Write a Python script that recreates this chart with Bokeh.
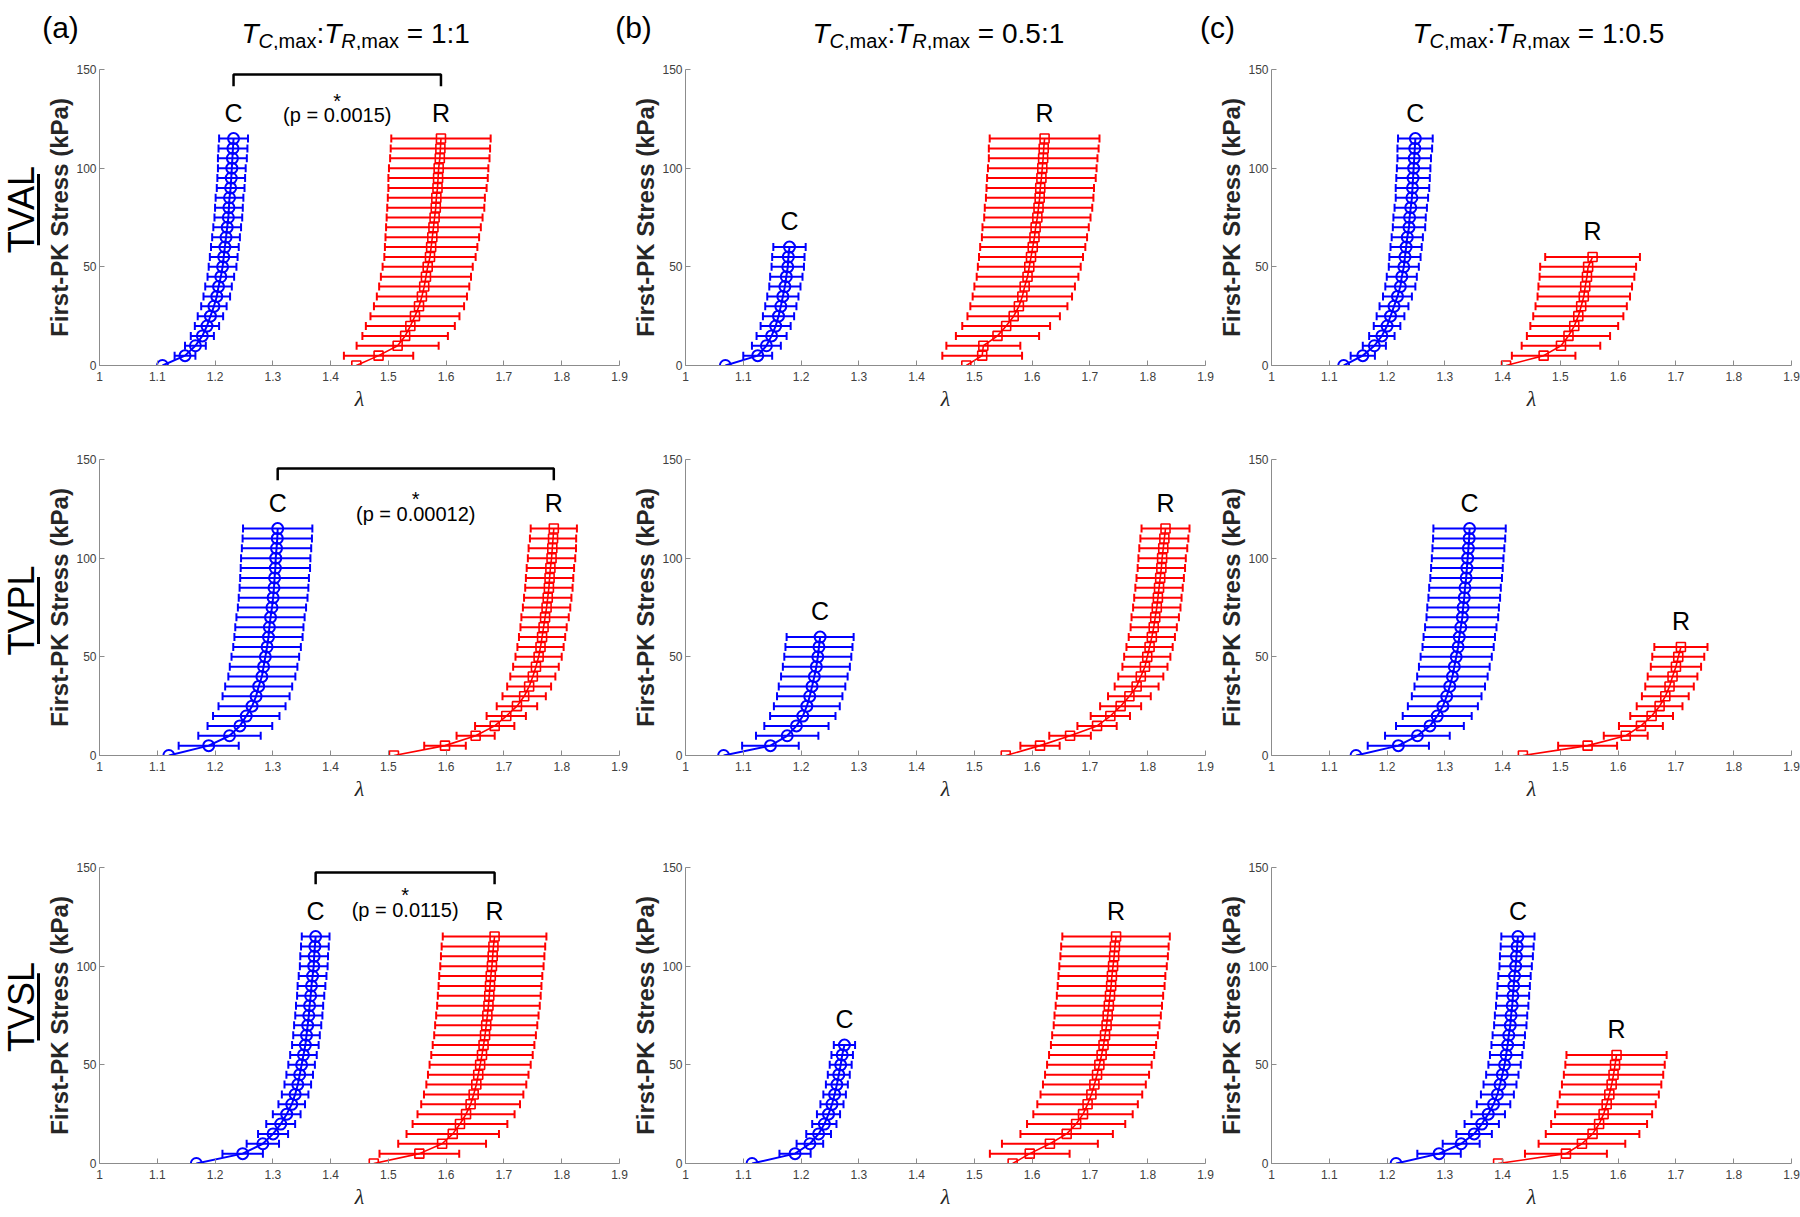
import math
from bokeh.plotting import figure
from bokeh.models import (Range1d, FixedTicker, CustomJSTickFormatter, Whisker, TeeHead,
                          ColumnDataSource, Label)
from bokeh.layouts import gridplot, column
from bokeh.embed import file_html
from bokeh.resources import INLINE

# ---------------------------------------------------------------- data
LEAFLETS = ["TVAL", "TVPL", "TVSL"]
PANEL_TAGS = ["(a)", "(b)", "(c)"]
RATIOS = ["1:1", "0.5:1", "1:0.5"]
X_TICKS = [1.0, 1.1, 1.2, 1.3, 1.4, 1.5, 1.6, 1.7, 1.8, 1.9]
Y_TICKS = [0, 50, 100, 150]
P_TEXTS = ["(p = 0.0015)", "(p = 0.00012)", "(p = 0.0115)"]

STRESS_TO_115 = [0, 5, 10, 15, 20, 25, 30, 35, 40, 45, 50, 55, 60, 65, 70, 75, 80, 85, 90, 95, 100, 105, 110, 115]
STRESS_TO_60 = [0, 5, 10, 15, 20, 25, 30, 35, 40, 45, 50, 55, 60]
STRESS_TO_55 = [0, 5, 10, 15, 20, 25, 30, 35, 40, 45, 50, 55]

# TVAL, 1:1
A1_C_LAM = [1.109, 1.148, 1.166, 1.178, 1.186, 1.192, 1.198, 1.203, 1.206, 1.210, 1.213, 1.215,
            1.217, 1.219, 1.221, 1.223, 1.224, 1.225, 1.227, 1.228, 1.229, 1.230, 1.231, 1.232]
A1_C_SD = [0, 0.018, 0.018, 0.020, 0.021, 0.022, 0.022, 0.023, 0.023, 0.023, 0.024, 0.024,
           0.024, 0.024, 0.024, 0.024, 0.024, 0.024, 0.024, 0.024, 0.024, 0.025, 0.025, 0.025]
A1_R_LAM = [1.4445, 1.483, 1.516, 1.529, 1.538, 1.546, 1.553, 1.558, 1.562, 1.565, 1.568, 1.572,
            1.574, 1.576, 1.578, 1.580, 1.582, 1.583, 1.585, 1.586, 1.587, 1.589, 1.590, 1.591]
A1_R_SD = [0, 0.060, 0.071, 0.074, 0.077, 0.077, 0.078, 0.078, 0.078, 0.078, 0.078, 0.079,
           0.080, 0.081, 0.082, 0.083, 0.084, 0.084, 0.085, 0.086, 0.086, 0.086, 0.086, 0.086]
# TVAL, 0.5:1
B1_C_LAM = [1.069, 1.125, 1.140, 1.149, 1.156, 1.161, 1.165, 1.1685, 1.172, 1.1745, 1.177, 1.178, 1.180]
B1_C_SD = [0, 0.025, 0.025, 0.026, 0.026, 0.027, 0.027, 0.027, 0.027, 0.028, 0.028, 0.028, 0.028]
B1_R_LAM = [1.486, 1.5135, 1.5155, 1.540, 1.555, 1.568, 1.577, 1.583, 1.587, 1.592, 1.595, 1.598,
            1.601, 1.604, 1.606, 1.609, 1.611, 1.613, 1.614, 1.616, 1.6175, 1.619, 1.620, 1.6215]
B1_R_SD = [0, 0.069, 0.064, 0.072, 0.076, 0.080, 0.084, 0.086, 0.087, 0.088, 0.089, 0.090,
           0.091, 0.091, 0.092, 0.092, 0.093, 0.093, 0.093, 0.094, 0.094, 0.094, 0.095, 0.095]
# TVAL, 1:0.5
C1_C_LAM = [1.125, 1.158, 1.178, 1.191, 1.200, 1.206, 1.212, 1.218, 1.223, 1.2255, 1.229, 1.231,
            1.233, 1.235, 1.238, 1.239, 1.241, 1.243, 1.244, 1.245, 1.246, 1.247, 1.248, 1.249]
C1_C_SD = [0, 0.021, 0.020, 0.022, 0.023, 0.024, 0.025, 0.025, 0.026, 0.026, 0.026, 0.027,
           0.027, 0.027, 0.028, 0.028, 0.028, 0.028, 0.029, 0.029, 0.029, 0.029, 0.030, 0.030]
C1_R_LAM = [1.406, 1.471, 1.501, 1.514, 1.524, 1.531, 1.536, 1.5405, 1.543, 1.546, 1.548, 1.5557]
C1_R_SD = [0, 0.055, 0.068, 0.072, 0.076, 0.078, 0.079, 0.080, 0.081, 0.082, 0.083, 0.082]

# TVPL, 1:1
A2_C_LAM = [1.120, 1.189, 1.225, 1.243, 1.254, 1.264, 1.271, 1.2755, 1.281, 1.284, 1.287, 1.290,
            1.2925, 1.294, 1.296, 1.2985, 1.3005, 1.302, 1.303, 1.3044, 1.305, 1.3064, 1.3077, 1.3084]
A2_C_SD = [0, 0.052, 0.054, 0.056, 0.0575, 0.058, 0.058, 0.058, 0.058, 0.0585, 0.0585, 0.0585,
           0.059, 0.059, 0.059, 0.059, 0.0595, 0.0595, 0.0595, 0.060, 0.060, 0.060, 0.060, 0.060]
A2_R_LAM = [1.5096, 1.598, 1.651, 1.684, 1.704, 1.7225, 1.735, 1.7436, 1.750, 1.7554, 1.760, 1.7633,
            1.766, 1.7686, 1.7712, 1.7738, 1.7758, 1.7778, 1.779, 1.7804, 1.7824, 1.7837, 1.785, 1.7863]
A2_R_SD = [0, 0.036, 0.033, 0.034, 0.034, 0.035, 0.0375, 0.038, 0.039, 0.0395, 0.040, 0.040,
           0.040, 0.040, 0.041, 0.041, 0.041, 0.041, 0.041, 0.041, 0.041, 0.041, 0.040, 0.040]
# TVPL, 0.5:1
B2_C_LAM = [1.066, 1.147, 1.176, 1.192, 1.203, 1.210, 1.215, 1.219, 1.223, 1.2265, 1.229, 1.231, 1.233]
B2_C_SD = [0, 0.049, 0.054, 0.0556, 0.0566, 0.057, 0.0566, 0.0576, 0.0576, 0.058, 0.058, 0.058, 0.058]
B2_R_LAM = [1.5543, 1.6136, 1.6656, 1.7123, 1.7353, 1.7531, 1.7683, 1.7808, 1.788, 1.7952, 1.7992, 1.8032,
            1.8071, 1.8104, 1.813, 1.8157, 1.8176, 1.8196, 1.8216, 1.8236, 1.8249, 1.8269, 1.8288, 1.8308]
B2_R_SD = [0, 0.034, 0.036, 0.034, 0.034, 0.0355, 0.037, 0.038, 0.039, 0.039, 0.040, 0.040,
           0.040, 0.040, 0.041, 0.041, 0.041, 0.041, 0.041, 0.041, 0.041, 0.0415, 0.0415, 0.0415]
# TVPL, 1:0.5
C2_C_LAM = [1.1463, 1.2195, 1.2525, 1.2742, 1.2868, 1.2966, 1.3032, 1.3085, 1.3131, 1.3164, 1.3197, 1.323,
            1.325, 1.3276, 1.3303, 1.3316, 1.3336, 1.3349, 1.3369, 1.3382, 1.3395, 1.3408, 1.3421, 1.3428]
C2_C_SD = [0, 0.053, 0.056, 0.0587, 0.0597, 0.0606, 0.0603, 0.061, 0.061, 0.0612, 0.0616, 0.0616,
           0.0618, 0.0618, 0.062, 0.062, 0.062, 0.062, 0.062, 0.062, 0.062, 0.0622, 0.0624, 0.0626]
C2_R_LAM = [1.4351, 1.5471, 1.6131, 1.6394, 1.6579, 1.6717, 1.6816, 1.6889, 1.6941, 1.700, 1.704, 1.7086]
C2_R_SD = [0, 0.051, 0.038, 0.038, 0.037, 0.0396, 0.0405, 0.042, 0.043, 0.0435, 0.045, 0.046]

# TVSL, 1:1
A3_C_LAM = [1.1676, 1.2478, 1.2827, 1.3004, 1.3136, 1.324, 1.3327, 1.3386, 1.3432, 1.3465, 1.3498, 1.353,
            1.3563, 1.3583, 1.3603, 1.3623, 1.3636, 1.3655, 1.3669, 1.3688, 1.3708, 1.3715, 1.3728, 1.3741]
A3_C_SD = [0, 0.035, 0.028, 0.026, 0.025, 0.024, 0.023, 0.023, 0.023, 0.023, 0.023, 0.023,
           0.023, 0.023, 0.0235, 0.0235, 0.0235, 0.0235, 0.024, 0.024, 0.024, 0.024, 0.024, 0.024]
A3_R_LAM = [1.4747, 1.5536, 1.593, 1.6114, 1.6239, 1.6344, 1.6423, 1.6476, 1.6522, 1.6555, 1.6588, 1.662,
            1.6647, 1.6673, 1.6693, 1.6713, 1.6732, 1.6746, 1.6759, 1.6772, 1.6792, 1.6805, 1.6818, 1.6838]
A3_R_SD = [0, 0.069, 0.076, 0.080, 0.082, 0.084, 0.0855, 0.086, 0.0865, 0.087, 0.0875, 0.0878,
           0.088, 0.088, 0.0884, 0.0886, 0.0888, 0.089, 0.089, 0.0892, 0.0894, 0.0895, 0.0896, 0.0897]
# TVSL, 0.5:1
B3_C_LAM = [1.1152, 1.1896, 1.2153, 1.2304, 1.2403, 1.2475, 1.2535, 1.2581, 1.262, 1.2653, 1.2686, 1.2712, 1.2751]
B3_C_SD = [0, 0.027, 0.023, 0.0214, 0.021, 0.020, 0.020, 0.0195, 0.019, 0.019, 0.019, 0.0186, 0.0184]
B3_R_LAM = [1.5662, 1.5958, 1.6307, 1.6597, 1.6761, 1.688, 1.6959, 1.7025, 1.7077, 1.7123, 1.7163, 1.7202,
            1.7235, 1.7261, 1.7288, 1.7307, 1.7327, 1.7347, 1.7367, 1.738, 1.74, 1.7419, 1.7432, 1.7452]
B3_R_SD = [0, 0.069, 0.083, 0.080, 0.085, 0.086, 0.087, 0.088, 0.089, 0.090, 0.0905, 0.091,
           0.091, 0.0915, 0.0915, 0.092, 0.092, 0.092, 0.0925, 0.0925, 0.093, 0.093, 0.093, 0.093]
# TVSL, 1:0.5
C3_C_LAM = [1.2156, 1.290, 1.3283, 1.3507, 1.3639, 1.3751, 1.3843, 1.391, 1.3955, 1.3995, 1.4034, 1.4061,
            1.4087, 1.4107, 1.4133, 1.4146, 1.4166, 1.4179, 1.4192, 1.4206, 1.4226, 1.4239, 1.4252, 1.4265]
C3_C_SD = [0, 0.0376, 0.032, 0.0307, 0.0297, 0.029, 0.029, 0.0285, 0.0285, 0.028, 0.028, 0.028,
           0.028, 0.028, 0.028, 0.028, 0.028, 0.028, 0.028, 0.028, 0.028, 0.0285, 0.0285, 0.0287]
C3_R_LAM = [1.3922, 1.5096, 1.5373, 1.5557, 1.567, 1.5748, 1.5801, 1.5847, 1.5887, 1.592, 1.5946, 1.5972]
C3_R_SD = [0, 0.0709, 0.075, 0.081, 0.083, 0.084, 0.085, 0.0857, 0.086, 0.086, 0.086, 0.0867]

# significance brackets (column (a) only): bracket height, star centre, p-text centre (kPa)
BRACKET_TOP = [147.5, 145.5, 147.5]
BRACKET_DROP = [6.0, 6.0, 6.0]
STAR_Y = [140.0, 136.0, 142.0]
PTEXT_Y = [127.0, 122.6, 128.4]

SERIES = {
    (0, 0): ((STRESS_TO_115, A1_C_LAM, A1_C_SD), (STRESS_TO_115, A1_R_LAM, A1_R_SD)),
    (0, 1): ((STRESS_TO_60, B1_C_LAM, B1_C_SD), (STRESS_TO_115, B1_R_LAM, B1_R_SD)),
    (0, 2): ((STRESS_TO_115, C1_C_LAM, C1_C_SD), (STRESS_TO_55, C1_R_LAM, C1_R_SD)),
    (1, 0): ((STRESS_TO_115, A2_C_LAM, A2_C_SD), (STRESS_TO_115, A2_R_LAM, A2_R_SD)),
    (1, 1): ((STRESS_TO_60, B2_C_LAM, B2_C_SD), (STRESS_TO_115, B2_R_LAM, B2_R_SD)),
    (1, 2): ((STRESS_TO_115, C2_C_LAM, C2_C_SD), (STRESS_TO_55, C2_R_LAM, C2_R_SD)),
    (2, 0): ((STRESS_TO_115, A3_C_LAM, A3_C_SD), (STRESS_TO_115, A3_R_LAM, A3_R_SD)),
    (2, 1): ((STRESS_TO_60, B3_C_LAM, B3_C_SD), (STRESS_TO_115, B3_R_LAM, B3_R_SD)),
    (2, 2): ((STRESS_TO_115, C3_C_LAM, C3_C_SD), (STRESS_TO_55, C3_R_LAM, C3_R_SD)),
}

# ---------------------------------------------------------------- layout / style
FONT = "Liberation Sans"
BLUE = "#0000ff"
RED = "#ff0000"
AXIS_GRAY = "#8c8c8c"
TICK_TEXT = "#404040"
LABEL_DARK = "#262626"

PAGE_W, PAGE_H = 1800, 1217
HEADER_H = 50
ROWLAB_W = 42
COL_FIG = [(42, 628), (628, 1214), (1214, 1800)]      # page x of each panel canvas
FRAME_X = [(99, 619), (685, 1205), (1271, 1791)]      # page x of lambda = 1 .. 1.9
ROW_FIG = [(50, 424), (424, 822), (822, 1217)]        # page y of each panel canvas
AXIS_Y = [(69, 365), (459, 755), (867, 1163)]         # page y of stress 150 .. 0

X_MIN, X_MAX = X_TICKS[0], X_TICKS[-1]
Y_MIN, Y_MAX = Y_TICKS[0], Y_TICKS[-1]

ADV = {"T": 0.611, "V": 0.667, "A": 0.667, "L": 0.556, "P": 0.667, "S": 0.667,
       "C": 0.722, "R": 0.722, ",": 0.278, "m": 0.833, "a": 0.556, "x": 0.5,
       ":": 0.278, " ": 0.278, "=": 0.584, "1": 0.556, "0": 0.556, "5": 0.556, ".": 0.278}


def text_width(s, size):
    return sum(ADV.get(ch, 0.556) for ch in s) * size


def canvas_fig(w, h):
    p = figure(width=w, height=h, x_range=Range1d(0, w), y_range=Range1d(0, h),
               x_axis_location=None, y_axis_location=None, output_backend="svg",
               toolbar_location=None, min_border=0)
    p.outline_line_color = None
    for g in p.grid:
        g.visible = False
    return p


def canvas_text(p, ox, oy, h, px, py, text, size, style="normal", color="black",
                font=FONT, align="left", baseline="alphabetic", angle=0.0):
    p.add_layout(Label(x=px - ox, y=oy + h - py, text=text, text_font=font,
                       text_font_size=f"{size}px", text_font_style=style, text_color=color,
                       text_align=align, text_baseline=baseline, angle=angle))


def make_panel(r, c):
    fx0, fx1 = COL_FIG[c]
    fy0, fy1 = ROW_FIG[r]
    top_px, zero_px = AXIS_Y[r]
    p = figure(width=fx1 - fx0, height=fy1 - fy0,
               x_range=Range1d(X_MIN, X_MAX), y_range=Range1d(Y_MIN, Y_MAX),
               output_backend="svg", toolbar_location=None,
               min_border_left=FRAME_X[c][0] - fx0, min_border_right=fx1 - FRAME_X[c][1],
               min_border_top=top_px - fy0, min_border_bottom=fy1 - zero_px)
    p.outline_line_color = None
    p.xgrid.visible = False
    p.ygrid.visible = False
    p.xaxis.ticker = FixedTicker(ticks=X_TICKS)
    p.xaxis.formatter = CustomJSTickFormatter(code="return String(Math.round(tick*10)/10);")
    p.yaxis.ticker = FixedTicker(ticks=Y_TICKS)
    for ax in (p.xaxis[0], p.yaxis[0]):
        ax.axis_line_color = AXIS_GRAY
        ax.axis_line_width = 1
        ax.major_tick_line_color = AXIS_GRAY
        ax.major_tick_in = 5
        ax.major_tick_out = 0
        ax.minor_tick_line_color = None
        ax.major_label_text_font = FONT
        ax.major_label_text_font_size = "12px"
        ax.major_label_text_color = TICK_TEXT
    p.xaxis.major_label_standoff = 6
    p.yaxis.major_label_standoff = 3
    p.yaxis.axis_label = "First-PK Stress (kPa)"
    p.yaxis.axis_label_text_font = FONT
    p.yaxis.axis_label_text_font_size = "24px"
    p.yaxis.axis_label_text_font_style = "bold"
    p.yaxis.axis_label_text_color = LABEL_DARK
    p.yaxis.axis_label_standoff = 0
    p.xaxis.axis_label = "λ"
    p.xaxis.axis_label_text_font = "Liberation Serif"
    p.xaxis.axis_label_text_font_size = "22px"
    p.xaxis.axis_label_text_font_style = "italic"
    p.xaxis.axis_label_text_color = LABEL_DARK
    p.xaxis.axis_label_standoff = 2

    (cy, cl, cs), (ry, rl, rs) = SERIES[(r, c)]
    for ys, lam, sd, color, marker, msize, lw in ((cy, cl, cs, BLUE, "circle", 11, 2),
                                                   (ry, rl, rs, RED, "square", 9, 1.6)):
        wy = [y for y, s in zip(ys, sd) if s > 0]
        wlo = [m - s for m, s in zip(lam, sd) if s > 0]
        whi = [m + s for m, s in zip(lam, sd) if s > 0]
        wsrc = ColumnDataSource(dict(y=wy, lo=wlo, hi=whi))
        p.add_layout(Whisker(source=wsrc, base="y", lower="lo", upper="hi", dimension="width",
                             line_color=color, line_width=2, level="glyph",
                             upper_head=TeeHead(size=8, line_color=color, line_width=2),
                             lower_head=TeeHead(size=8, line_color=color, line_width=2)))
        src = ColumnDataSource(dict(x=lam, y=ys))
        p.line("x", "y", source=src, line_color=color, line_width=lw)
        p.scatter("x", "y", source=src, marker=marker, size=msize, fill_color=None,
                  line_color=color, line_width=lw)
    # C / R tags above the top of each curve
    for tag, ys, lam in (("C", cy, cl), ("R", ry, rl)):
        p.add_layout(Label(x=lam[-1], y=ys[-1] + 13, text=tag, text_font=FONT,
                           text_font_size="25px", text_color="black",
                           text_align="center", text_baseline="middle"))
    # significance bracket in column (a)
    if c == 0:
        xl, xr = cl[-1], rl[-1]
        top, drop = BRACKET_TOP[r], BRACKET_DROP[r]
        p.line([xl, xl, xr, xr], [top - drop, top, top, top - drop], line_color="black", line_width=2.5)
        xm = (xl + xr) / 2
        star_base = STAR_Y[r] - 11.5 * (Y_MAX - Y_MIN) / (zero_px - top_px)
        p.add_layout(Label(x=xm, y=star_base, text="*", text_font=FONT,
                           text_font_size="20px", text_color="black", text_align="center",
                           text_baseline="alphabetic"))
        p.add_layout(Label(x=xm, y=PTEXT_Y[r], text=P_TEXTS[r], text_font=FONT,
                           text_font_size="20px", text_color="black", text_align="center",
                           text_baseline="middle"))
    return p


# ---- header: panel tags and column titles  T_{C,max}:T_{R,max} = ratio
header = canvas_fig(PAGE_W, HEADER_H)
TAG_X = [60, 633, 1217]
for c in range(3):
    canvas_text(header, 0, 0, HEADER_H, TAG_X[c], 27, PANEL_TAGS[c], 30, align="center")
TITLE_X0 = [241, 812, 1412]
TITLE_BASE = 33
for c in range(3):
    x = TITLE_X0[c]
    pieces = [("T", 28, "italic", 0), ("C", 20, "italic", 7), (",max", 20, "normal", 7),
              (":", 28, "normal", 0), ("T", 28, "italic", 0), ("R", 20, "italic", 7),
              (",max", 20, "normal", 7), (" ", 28, "normal", 0), ("= " + RATIOS[c], 28, "normal", 0)]
    for txt, size, style, drop in pieces:
        if txt.strip():
            canvas_text(header, 0, 0, HEADER_H, x, TITLE_BASE + drop, txt, size, style=style)
        x += text_width(txt, size)

# ---- row labels (leaflets), underlined
ROW_CENTER = [227, 627, 1008]
rows = []
for r in range(3):
    fy0, fy1 = ROW_FIG[r]
    h = fy1 - fy0
    rl_fig = canvas_fig(ROWLAB_W, h)
    canvas_text(rl_fig, 0, fy0, h, 21, ROW_CENTER[r], LEAFLETS[r], 36, align="center",
                baseline="middle", angle=math.pi / 2)
    half = text_width(LEAFLETS[r], 36) / 2
    rl_fig.line([38, 38], [fy0 + h - (ROW_CENTER[r] + half), fy0 + h - (ROW_CENTER[r] - half)],
                line_color="black", line_width=3)
    rows.append([rl_fig] + [make_panel(r, c) for c in range(3)])

grid = gridplot(rows, toolbar_location=None)
layout = column(header, grid)
open("out.html", "w").write(file_html(layout, INLINE))
